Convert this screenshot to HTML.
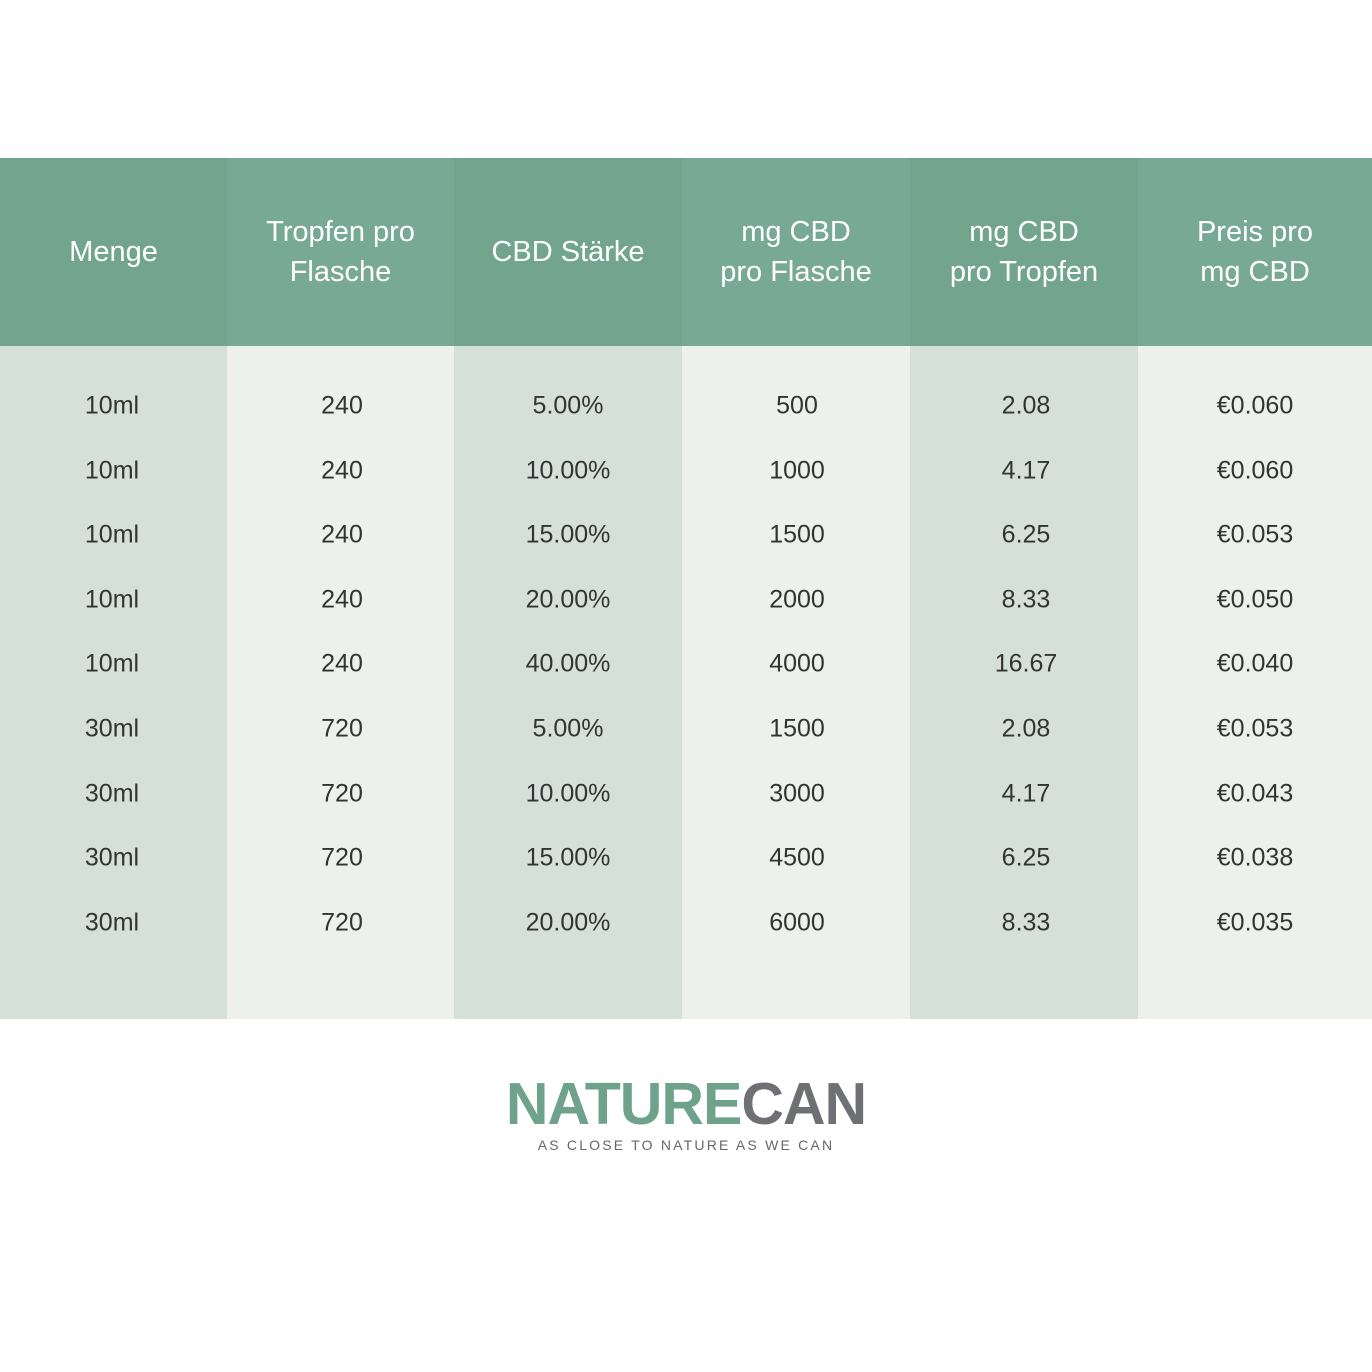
<!DOCTYPE html>
<html><head><style>
body{margin:0;width:1372px;height:1372px;background:#fff;position:relative;font-family:"Liberation Sans",sans-serif;overflow:hidden}
.h{position:absolute;top:158px;height:188px;display:flex;align-items:center;justify-content:center;text-align:center;color:#fff;font-size:29px;line-height:40px}
.b{position:absolute;top:346px;height:673px}
.t{position:absolute;font-size:25px;color:#333;transform:translate(-50%,-50%);white-space:nowrap}
</style></head><body>
<div class="h" style="left:0;width:227px;background:#73a48e">Menge</div>
<div class="h" style="left:227px;width:227px;background:#78a994">Tropfen pro<br>Flasche</div>
<div class="h" style="left:454px;width:228px;background:#73a48e">CBD Stärke</div>
<div class="h" style="left:682px;width:228px;background:#78a994">mg CBD<br>pro Flasche</div>
<div class="h" style="left:910px;width:228px;background:#73a48e">mg CBD<br>pro Tropfen</div>
<div class="h" style="left:1138px;width:234px;background:#78a994">Preis pro<br>mg CBD</div>
<div class="b" style="left:0;width:227px;background:#d5e0db"></div>
<div class="b" style="left:227px;width:227px;background:#edf0ed"></div>
<div class="b" style="left:454px;width:228px;background:#d5e0db"></div>
<div class="b" style="left:682px;width:228px;background:#edf0ed"></div>
<div class="b" style="left:910px;width:228px;background:#d5e0db"></div>
<div class="b" style="left:1138px;width:234px;background:#edf0ed"></div>
<div id="cells"></div>
<div style="position:absolute;left:0;width:1372px;top:1072px;text-align:center;font-weight:bold;font-size:59px;letter-spacing:-1px;line-height:64px"><span style="color:#6ea28b">NATURE</span><span style="color:#6f7073">CAN</span></div>
<div style="position:absolute;left:0;width:1372px;top:1137px;text-align:center;font-size:14px;letter-spacing:2.2px;color:#666">AS CLOSE TO NATURE AS WE CAN</div>
<script>
var d=[["10ml","240","5.00%","500","2.08","€0.060"],["10ml","240","10.00%","1000","4.17","€0.060"],["10ml","240","15.00%","1500","6.25","€0.053"],["10ml","240","20.00%","2000","8.33","€0.050"],["10ml","240","40.00%","4000","16.67","€0.040"],["30ml","720","5.00%","1500","2.08","€0.053"],["30ml","720","10.00%","3000","4.17","€0.043"],["30ml","720","15.00%","4500","6.25","€0.038"],["30ml","720","20.00%","6000","8.33","€0.035"]];
var xs=[112,342,568,797,1026,1255],h="";
d.forEach(function(r,i){r.forEach(function(v,j){h+='<div class="t" style="left:'+xs[j]+'px;top:'+(406+i*64.6)+'px">'+v+'</div>'})});
document.getElementById("cells").innerHTML=h;
</script>
</body></html>
